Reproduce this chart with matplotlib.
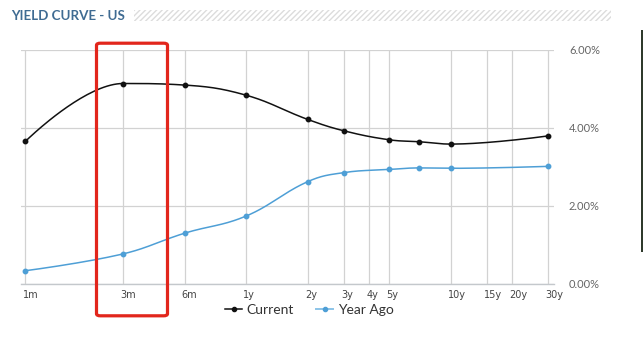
import numpy as np
import matplotlib
matplotlib.use("Agg")
import matplotlib.pyplot as plt
from matplotlib.patches import Rectangle, FancyBboxPatch
from matplotlib.lines import Line2D
from matplotlib.ticker import FixedLocator, FixedFormatter, NullLocator
import matplotlib.transforms as mtransforms

# Data
point_years = [1 / 12, 0.25, 0.5, 1, 2, 3, 5, 7, 10, 30]
current = [3.65, 5.13, 5.09, 4.83, 4.21, 3.92, 3.69, 3.64, 3.58, 3.79]
year_ago = [0.34, 0.77, 1.30, 1.74, 2.62, 2.85, 2.93, 2.97, 2.96, 3.01]

grid_years = [1 / 12, 0.25, 0.5, 1, 2, 3, 4, 5, 10, 15, 20, 30]
grid_labels = ["1m", "3m", "6m", "1y", "2y", "3y", "4y", "5y", "10y", "15y",
               "20y", "30y"]
y_ticks = [0, 2, 4, 6]

CURRENT_COLOR = "#111111"
YEAR_AGO_COLOR = "#4e9fd6"
GRID_COLOR = "#d2d2d2"
W, H = 643, 346


def spline_curve(xs, ys, smoothing=1.5, steps=40):
    """Highcharts-like spline through the points, computed in (log x, y)."""
    u = np.log10(np.asarray(xs, dtype=float))
    v = np.asarray(ys, dtype=float)
    n = len(u)
    left = [(u[i], v[i]) for i in range(n)]
    right = [(u[i], v[i]) for i in range(n)]
    denom = smoothing + 1
    for i in range(1, n - 1):
        px, py = u[i], v[i]
        lx, ly = u[i - 1], v[i - 1]
        nx, ny = u[i + 1], v[i + 1]
        lcx = (smoothing * px + lx) / denom
        lcy = (smoothing * py + ly) / denom
        rcx = (smoothing * px + nx) / denom
        rcy = (smoothing * py + ny) / denom
        if rcx != lcx:
            corr = (rcy - lcy) * (rcx - px) / (rcx - lcx) + py - rcy
            lcy += corr
            rcy += corr
        if lcy > ly and lcy > py:
            lcy = max(ly, py)
            rcy = 2 * py - lcy
        elif lcy < ly and lcy < py:
            lcy = min(ly, py)
            rcy = 2 * py - lcy
        if rcy > ny and rcy > py:
            rcy = max(ny, py)
            lcy = 2 * py - rcy
        elif rcy < ny and rcy < py:
            rcy = min(ny, py)
            lcy = 2 * py - rcy
        left[i] = (lcx, lcy)
        right[i] = (rcx, rcy)
    t = np.linspace(0, 1, steps)[:, None]
    segs = []
    for i in range(n - 1):
        p0 = np.array([u[i], v[i]])
        p1 = np.array(right[i])
        p2 = np.array(left[i + 1])
        p3 = np.array([u[i + 1], v[i + 1]])
        seg = ((1 - t) ** 3 * p0 + 3 * (1 - t) ** 2 * t * p1
               + 3 * (1 - t) * t ** 2 * p2 + t ** 3 * p3)
        segs.append(seg if i == 0 else seg[1:])
    pts = np.vstack(segs)
    return 10 ** pts[:, 0], pts[:, 1]


fig = plt.figure(figsize=(W / 100, H / 100), dpi=100)
fig.patch.set_facecolor("white")

# axes box in pixels: x 20.5..553.7, y(top) 49.5..284
ax_l, ax_r, ax_t, ax_b = 20.5, 553.7, 49.5, 284
ax = fig.add_axes([ax_l / W, 1 - ax_b / H, (ax_r - ax_l) / W, (ax_b - ax_t) / H])
ax.set_xscale("log")
ax.set_xlim(1 / 12 / 1.057, 30 * 1.061)
ax.set_ylim(0, 6)

for s in ["top", "left", "right"]:
    ax.spines[s].set_visible(False)
ax.spines["bottom"].set_color("#c4c8cc")
ax.spines["bottom"].set_linewidth(1.0)

ax.xaxis.set_major_locator(FixedLocator(grid_years))
ax.xaxis.set_major_formatter(FixedFormatter(grid_labels))
ax.xaxis.set_minor_locator(NullLocator())
ax.yaxis.set_major_locator(FixedLocator(y_ticks))
ax.yaxis.set_major_formatter(FixedFormatter(["%.2f%%" % v for v in y_ticks]))
ax.yaxis.tick_right()
ax.tick_params(axis="both", length=0)
ax.tick_params(axis="x", pad=4, labelsize=7, labelcolor="#444444")
ax.tick_params(axis="y", pad=11, labelsize=8, labelcolor="#666666")
for lbl in ax.get_xticklabels():
    lbl.set_horizontalalignment("left")
    lbl.set_transform(lbl.get_transform() + mtransforms.ScaledTranslation(
        -2 / 72, 0, fig.dpi_scale_trans))
for lbl in ax.get_yticklabels():
    lbl.set_fontfamily("Lato")
for lbl in ax.get_xticklabels():
    lbl.set_fontfamily("DejaVu Sans")

ax.grid(True, color=GRID_COLOR, linewidth=0.9)
ax.set_axisbelow(True)

cx, cy = spline_curve(point_years, current)
ax.plot(cx, cy, color=CURRENT_COLOR, linewidth=1.1, zorder=3)
ax.plot(point_years, current, "o", color=CURRENT_COLOR, markersize=3.2,
        zorder=4)
yx, yy = spline_curve(point_years, year_ago)
ax.plot(yx, yy, color=YEAR_AGO_COLOR, linewidth=1.1, zorder=3)
ax.plot(point_years, year_ago, "o", color=YEAR_AGO_COLOR, markersize=3.2,
        zorder=4)

handles = [
    Line2D([], [], color=CURRENT_COLOR, lw=1.1, marker="o", markersize=3),
    Line2D([], [], color="#8cc4e8", lw=1.4, marker="o", markersize=3,
           markerfacecolor=YEAR_AGO_COLOR, markeredgecolor=YEAR_AGO_COLOR),
]
fig.legend(handles, ["Current", "Year Ago"], loc="center",
           bbox_to_anchor=(309.5 / W, 1 - 309.5 / H), ncol=2, frameon=False,
           handlelength=1.2, handletextpad=0.35, columnspacing=1.6,
           prop={"family": "Lato", "size": 10}, labelcolor="#333333")

# header: title and hatched bar
fig.text(11 / W, 1 - 15.5 / H, "YIELD CURVE - US", family="Lato",
         weight="bold", fontsize=9.6, color="#3f6b92", va="center", ha="left")
plt.rcParams["hatch.linewidth"] = 1.0
fig.patches.append(Rectangle((134 / W, 1 - 21 / H), 477 / W, 11 / H,
                             transform=fig.transFigure, facecolor="none",
                             edgecolor="#dcdcdc", linewidth=0,
                             hatch="//////"))

# red highlight box
fig.patches.append(FancyBboxPatch(
    (96.5 / W, 1 - 315.8 / H), 71 / W, 272.6 / H,
    boxstyle="round,pad=0,rounding_size=0.006", transform=fig.transFigure,
    facecolor="none", edgecolor="#e2261c", linewidth=2.3, zorder=10))

# cropped neighbour image at the right edge
fig.patches.append(Rectangle((641 / W, 1 - 252 / H), 2 / W, 222 / H,
                             transform=fig.transFigure, facecolor="#2f3a2c",
                             edgecolor="none"))

fig.savefig("out.png", dpi=100, facecolor="white")
